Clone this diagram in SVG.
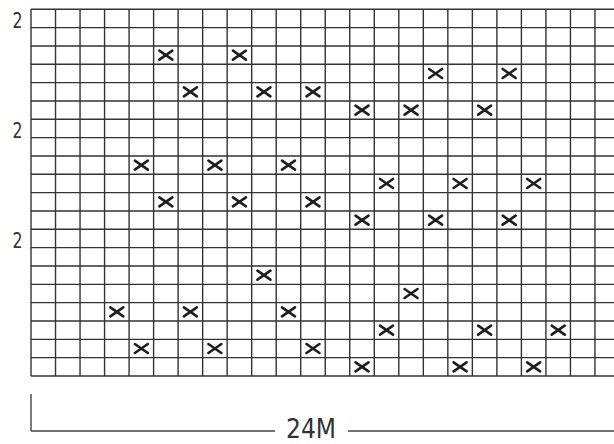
<svg xmlns="http://www.w3.org/2000/svg" xmlns:xlink="http://www.w3.org/1999/xlink" width="614" height="444" viewBox="0 0 614 444">
<style>
.grid{stroke:#333;stroke-width:1.4;fill:none}
.mark{stroke:#1e1e1e;stroke-width:2.6;fill:none;stroke-linecap:round}
.lbl{font-family:"Liberation Sans Narrow","DejaVu Sans Condensed","Liberation Sans",sans-serif;fill:#333}
.dim{stroke:#444;stroke-width:1.4;fill:none}
</style>
<defs>
<path id="x" class="mark" d="M-6.5,-4.5 L6.5,4.5 M-6.5,4.5 L6.5,-4.5"/>
</defs>
<rect width="614" height="444" fill="#fff"/>
<g id="grid" class="grid">
<path d="M31,9.3V376 M55.52,9.3V376 M80.04,9.3V376 M104.56,9.3V376 M129.08,9.3V376 M153.6,9.3V376 M178.12,9.3V376 M202.64,9.3V376 M227.16,9.3V376 M251.68,9.3V376 M276.2,9.3V376 M300.72,9.3V376 M325.24,9.3V376 M349.76,9.3V376 M374.28,9.3V376 M398.8,9.3V376 M423.32,9.3V376 M447.84,9.3V376 M472.36,9.3V376 M496.88,9.3V376 M521.4,9.3V376 M545.92,9.3V376 M570.44,9.3V376 M594.96,9.3V376"/>
<path d="M31,9.3H620 M31,27.64H620 M31,45.97H620 M31,64.31H620 M31,82.64H620 M31,100.98H620 M31,119.31H620 M31,137.65H620 M31,155.98H620 M31,174.32H620 M31,192.65H620 M31,210.99H620 M31,229.32H620 M31,247.66H620 M31,265.99H620 M31,284.33H620 M31,302.66H620 M31,321H620 M31,339.33H620 M31,357.67H620 M31,376H620"/>
</g>
<g id="marks">
<use xlink:href="#x" x="165.86" y="55.14"/>
<use xlink:href="#x" x="239.42" y="55.14"/>
<use xlink:href="#x" x="435.58" y="73.47"/>
<use xlink:href="#x" x="509.14" y="73.47"/>
<use xlink:href="#x" x="190.38" y="91.81"/>
<use xlink:href="#x" x="263.94" y="91.81"/>
<use xlink:href="#x" x="312.98" y="91.81"/>
<use xlink:href="#x" x="362.02" y="110.14"/>
<use xlink:href="#x" x="411.06" y="110.14"/>
<use xlink:href="#x" x="484.62" y="110.14"/>
<use xlink:href="#x" x="141.34" y="165.15"/>
<use xlink:href="#x" x="214.9" y="165.15"/>
<use xlink:href="#x" x="288.46" y="165.15"/>
<use xlink:href="#x" x="386.54" y="183.49"/>
<use xlink:href="#x" x="460.1" y="183.49"/>
<use xlink:href="#x" x="533.66" y="183.49"/>
<use xlink:href="#x" x="165.86" y="201.82"/>
<use xlink:href="#x" x="239.42" y="201.82"/>
<use xlink:href="#x" x="312.98" y="201.82"/>
<use xlink:href="#x" x="362.02" y="220.16"/>
<use xlink:href="#x" x="435.58" y="220.16"/>
<use xlink:href="#x" x="509.14" y="220.16"/>
<use xlink:href="#x" x="263.94" y="275.16"/>
<use xlink:href="#x" x="411.06" y="293.5"/>
<use xlink:href="#x" x="116.82" y="311.83"/>
<use xlink:href="#x" x="190.38" y="311.83"/>
<use xlink:href="#x" x="288.46" y="311.83"/>
<use xlink:href="#x" x="386.54" y="330.17"/>
<use xlink:href="#x" x="484.62" y="330.17"/>
<use xlink:href="#x" x="558.18" y="330.17"/>
<use xlink:href="#x" x="141.34" y="348.5"/>
<use xlink:href="#x" x="214.9" y="348.5"/>
<use xlink:href="#x" x="312.98" y="348.5"/>
<use xlink:href="#x" x="362.02" y="366.84"/>
<use xlink:href="#x" x="460.1" y="366.84"/>
<use xlink:href="#x" x="533.66" y="366.84"/>
</g>
<g id="row-labels" class="lbl" font-size="22" text-anchor="middle">
<text x="17.5" y="27.5" textLength="10" lengthAdjust="spacingAndGlyphs">2</text>
<text x="17.5" y="137.5" textLength="10" lengthAdjust="spacingAndGlyphs">2</text>
<text x="17.5" y="247.5" textLength="10" lengthAdjust="spacingAndGlyphs">2</text>
</g>
<g id="dimension">
<path class="dim" d="M31,394V431 M31,431H275 M348,431H614"/>
<text class="lbl" x="311" y="437.5" font-size="26" text-anchor="middle" textLength="50" lengthAdjust="spacingAndGlyphs">24M</text>
</g>
</svg>
